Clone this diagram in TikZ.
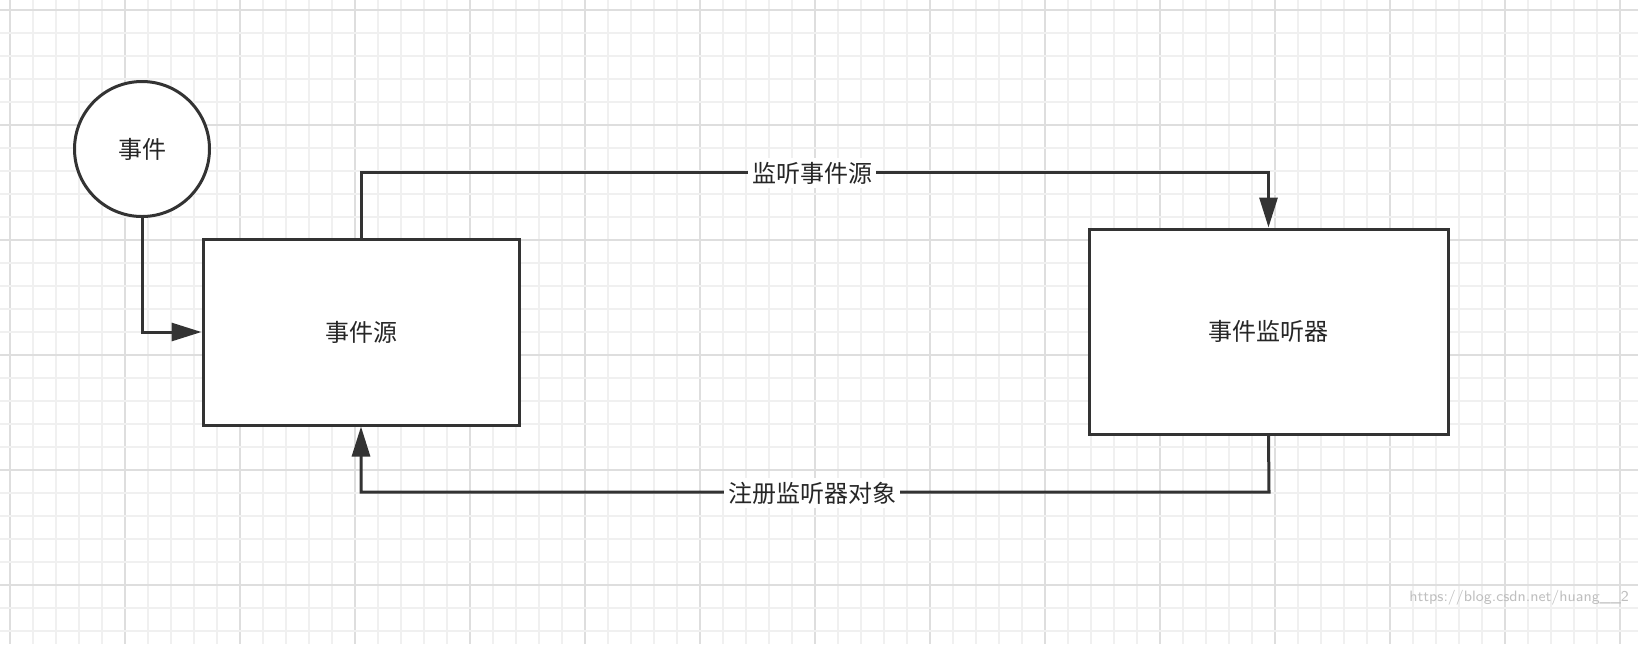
\documentclass[tikz,border=0pt]{standalone}
\usepackage{fontspec}
\newfontfamily\cjk{Noto Sans CJK SC}
\usetikzlibrary{arrows.meta}
\begin{document}
\begin{tikzpicture}[x=0.5pt,y=-0.5pt,
  box/.style={draw=black!80,line width=1.5pt,fill=white},
  conn/.style={draw=black!80,line width=1.5pt,-{Triangle[length=15pt,width=9pt]}},
  lbl/.style={fill=white,inner sep=2pt,font=\cjk\fontsize{12}{14}\selectfont,text=black!85}]
\useasboundingbox (0,0) rectangle (1638,644);
\fill[white] (0,0) rectangle (1638,644);
\foreach \i in {0,...,70}{
  \pgfmathsetmacro\xx{10+23*\i}
  \pgfmathtruncatemacro\m{mod(\i,5)}
  \ifnum\m=0 \draw[black!13,line width=1pt] (\xx,0)--(\xx,644);
  \else \draw[black!6,line width=0.6pt] (\xx,0)--(\xx,644); \fi}
\foreach \i in {0,...,28}{
  \pgfmathsetmacro\yy{10+23*\i}
  \pgfmathtruncatemacro\m{mod(\i,5)}
  \ifnum\m=0 \draw[black!13,line width=1pt] (0,\yy)--(1638,\yy);
  \else \draw[black!6,line width=0.6pt] (0,\yy)--(1638,\yy); \fi}
\node[box,circle,minimum size=67.5pt,label={[lbl,fill=none]center:事件}] (ev) at (142,149) {};
\node[box,minimum width=158pt,minimum height=93pt,lbl,fill=white] (src) at (361,332) {事件源};
\node[box,minimum width=179.5pt,minimum height=102.5pt,lbl,fill=white] (lis) at (1268.5,331.5) {事件监听器};
\coordinate (c1) at (142,333);
\draw[conn] (ev.south) |- (src.west);
\draw[conn] (src.north) -- (361,172) -| (lis.north);
\draw[conn] (lis.south) -- (1269,492) -| (src.south);
\node[lbl] (t1) at (812,173) {监听事件源};
\node[lbl] (t2) at (812,493) {注册监听器对象};
\node[font=\sffamily\fontsize{7.5}{9}\selectfont,text=black!25,anchor=east] (wm) at (1636,598) {https://blog.csdn.net/huang\_\_2};
\end{tikzpicture}
\end{document}
